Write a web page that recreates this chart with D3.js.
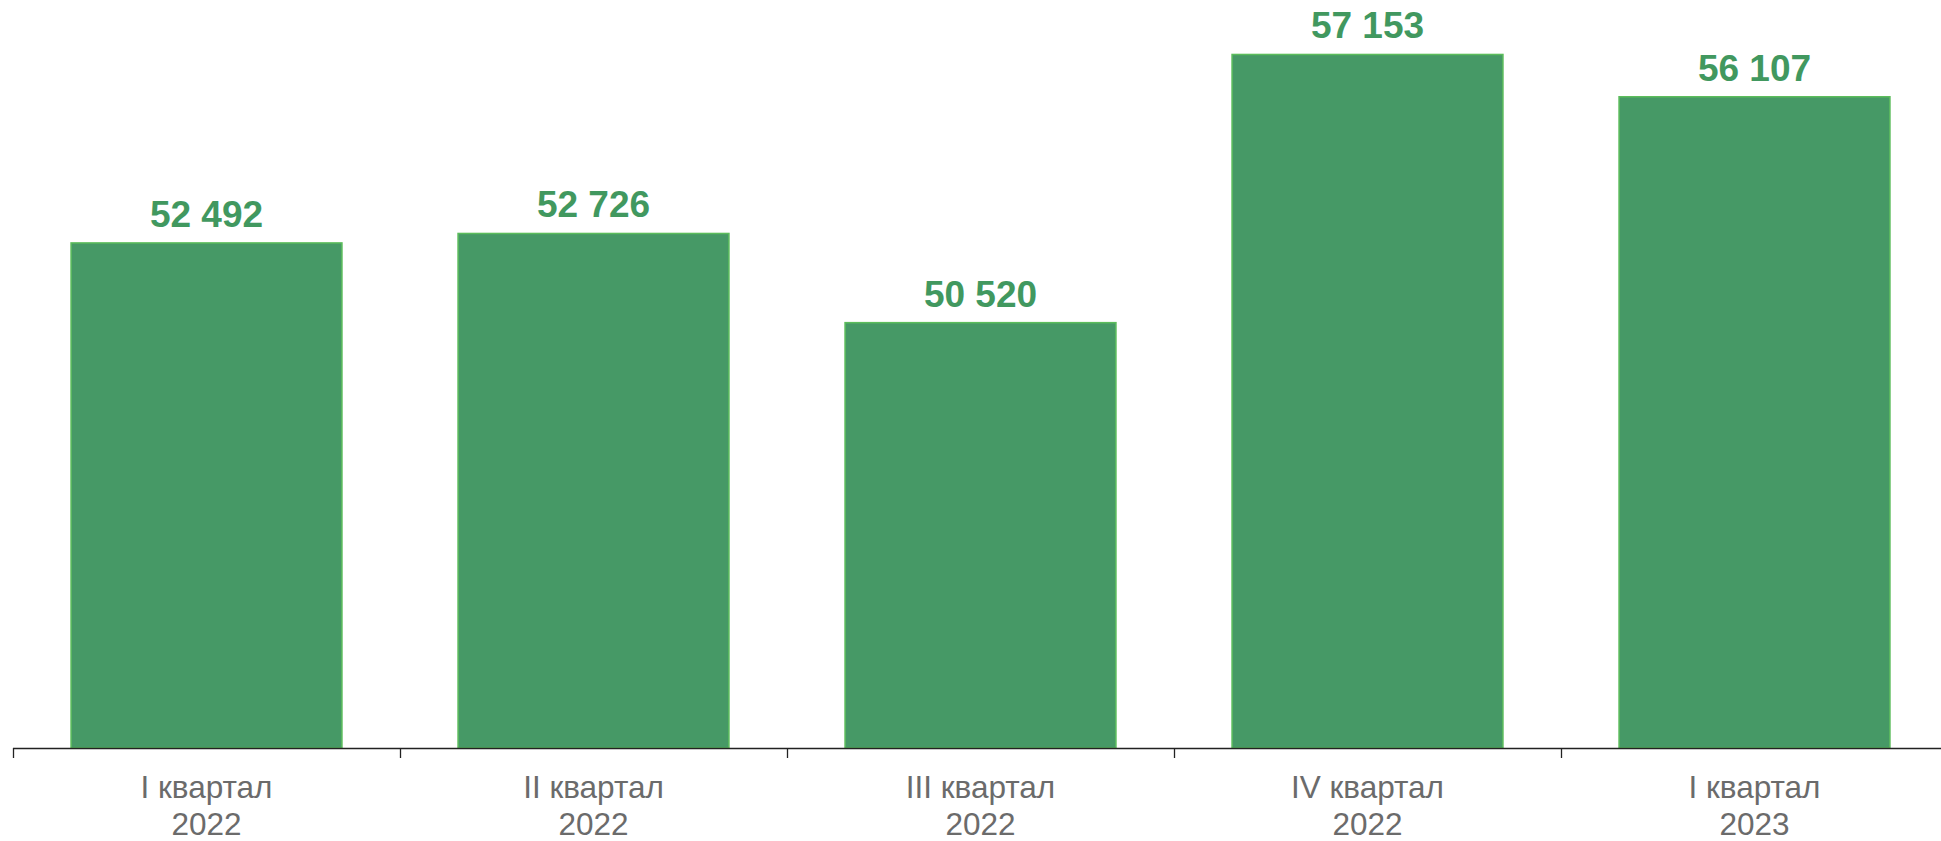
<!DOCTYPE html>
<html>
<head>
<meta charset="utf-8">
<script src="https://cdn.jsdelivr.net/npm/d3@7"></script>
<style>
  body { margin: 0; background: #fff; }
  svg { display: block; }
</style>
</head>
<body>
<div id="chart"></div>
<script>
var svgWidth = 1941;
var svgHeight = 841;

// data
var quarters = ["I квартал", "II квартал", "III квартал", "IV квартал", "I квартал"];
var years = ["2022", "2022", "2022", "2022", "2023"];
var values = [52492, 52726, 50520, 57153, 56107];

var baseY = 748;

var svg = d3.select("#chart")
  .append("svg")
  .attr("width", svgWidth)
  .attr("height", svgHeight);

var data = values.map((v, i) => ({ key: i, quarter: quarters[i], year: years[i], value: v }));

var xScale = d3.scaleBand()
  .domain(data.map(d => d.key))
  .range([13, 1948])
  .paddingInner(0.3)
  .paddingOuter(0.15);

// value axis does not start at zero
var yScale = d3.scaleLinear()
  .domain([40000, 58500])
  .range([baseY, 0]);

// bars
svg.append("g")
  .selectAll("rect")
  .data(data)
  .enter()
  .append("rect")
  .attr("x", d => xScale(d.key))
  .attr("y", d => yScale(d.value))
  .attr("width", xScale.bandwidth())
  .attr("height", d => baseY - yScale(d.value))
  .attr("fill", "#469966")
  .attr("stroke", "#5cbd5c")
  .attr("stroke-width", 1.5);

// value labels
var fmt = d => d3.format(",")(d).replace(/,/g, " ");
svg.append("g")
  .selectAll("text")
  .data(data)
  .enter()
  .append("text")
  .attr("x", d => xScale(d.key) + xScale.bandwidth() / 2)
  .attr("y", d => yScale(d.value) - 16)
  .attr("text-anchor", "middle")
  .attr("font-family", "'Liberation Sans', Arial, sans-serif")
  .attr("font-weight", "bold")
  .attr("font-size", 37)
  .attr("fill", "#41985f")
  .text(d => fmt(d.value));

// x axis: ticks on the band edges
var edges = data.map(d => xScale(d.key) - xScale.step() * xScale.paddingInner() / 2);
edges.push(xScale.range()[1]);

var axis = svg.append("g").attr("class", "x-axis");
axis.append("line")
  .attr("x1", xScale.range()[0])
  .attr("x2", xScale.range()[1])
  .attr("y1", baseY + 0.5)
  .attr("y2", baseY + 0.5)
  .attr("stroke", "#222")
  .attr("stroke-width", 1.3);

axis.selectAll("line.tick")
  .data(edges)
  .enter()
  .append("line")
  .attr("class", "tick")
  .attr("x1", d => Math.round(d) + 0.5)
  .attr("x2", d => Math.round(d) + 0.5)
  .attr("y1", baseY)
  .attr("y2", baseY + 10)
  .attr("stroke", "#222")
  .attr("stroke-width", 1.3);

var labels = axis.selectAll("text.cat")
  .data(data)
  .enter()
  .append("text")
  .attr("class", "cat")
  .attr("x", d => xScale(d.key) + xScale.bandwidth() / 2)
  .attr("y", 798)
  .attr("text-anchor", "middle")
  .attr("font-family", "'Liberation Sans', Arial, sans-serif")
  .attr("font-size", 31.5)
  .attr("fill", "#6b6b6b");

labels.append("tspan")
  .attr("x", d => xScale(d.key) + xScale.bandwidth() / 2)
  .text(d => d.quarter);

labels.append("tspan")
  .attr("x", d => xScale(d.key) + xScale.bandwidth() / 2)
  .attr("dy", 37)
  .text(d => d.year);
</script>
</body>
</html>
